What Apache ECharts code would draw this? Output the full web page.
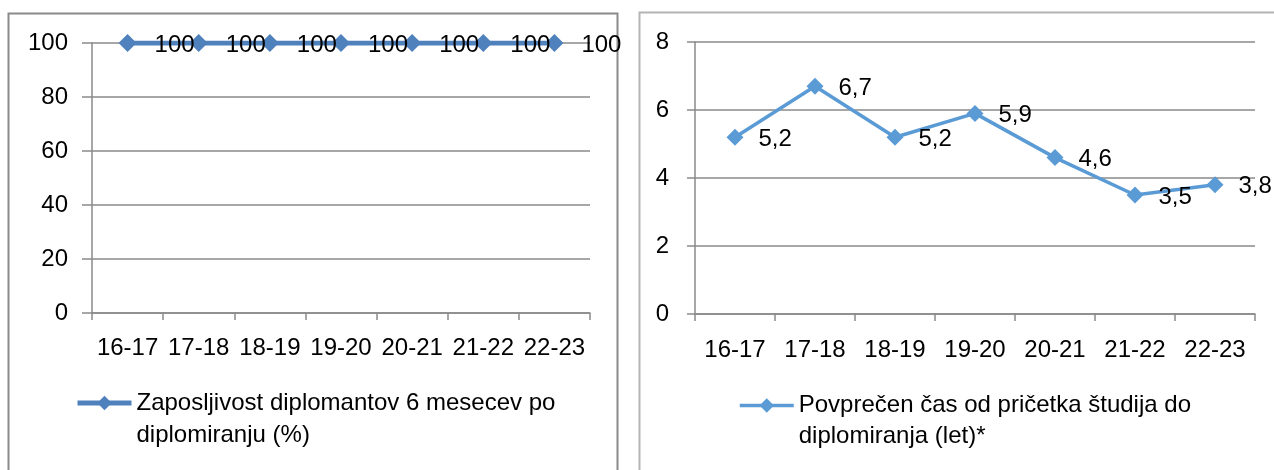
<!DOCTYPE html>
<html>
<head>
<meta charset="utf-8">
<script src="https://cdn.jsdelivr.net/npm/echarts@6/dist/echarts.min.js"></script>
<style>
html,body{margin:0;padding:0;background:#fff;}
#c{width:1274px;height:470px;}
</style>
</head>
<body>
<div id="c"></div>
<script>
const categories = ['16-17','17-18','18-19','19-20','20-21','21-22','22-23'];
const employability = [100,100,100,100,100,100,100];
const studyTime = [5.2,6.7,5.2,5.9,4.6,3.5,3.8];
const leftYTicks = [0,20,40,60,80,100];
const rightYTicks = [0,2,4,6,8];
const leftName = 'Zaposljivost diplomantov 6 mesecev po\ndiplomiranju (%)';
const rightName = 'Povprečen čas od pričetka študija do\ndiplomiranja (let)*';

const FONT = 'Liberation Sans';
const FS = 24;
const gridColor = '#8a8a8a';
const leftColor = '#4F81BD';
const rightColor = '#5B9BD5';

const chart = echarts.init(document.getElementById('c'), null, {renderer:'canvas'});

function yAxis(gridIndex, ticks, labelMargin, tickLen){
  return {
    type:'value', gridIndex,
    min: ticks[0], max: ticks[ticks.length-1], interval: ticks[1]-ticks[0],
    axisLine:{show:true, lineStyle:{color:gridColor, width:1.5}},
    axisTick:{show:true, length:tickLen, lineStyle:{color:gridColor, width:1.5}},
    splitLine:{show:true, lineStyle:{color:gridColor, width:1.5}},
    axisLabel:{color:'#000', fontFamily:FONT, fontSize:FS, margin:labelMargin}
  };
}
function xAxis(gridIndex, labelMargin){
  return {
    type:'category', gridIndex, data:categories, boundaryGap:true,
    axisLine:{show:true, lineStyle:{color:gridColor, width:1.5}},
    axisTick:{show:true, length:7, alignWithLabel:false, lineStyle:{color:gridColor, width:1.5}},
    splitLine:{show:false},
    axisLabel:{color:'#000', fontFamily:FONT, fontSize:FS, margin:labelMargin, interval:0}
  };
}
function legend(name, left, top, lh, lw, color){
  return {
    data:[name], left, top, padding:0, orient:'horizontal',
    itemWidth:54, itemHeight:18,
    lineStyle:{width:lw, color:color},
    itemStyle:{color:color},
    formatter:(n)=>' \n' + n,
    textStyle:{color:'#000', fontFamily:FONT, fontSize:FS, lineHeight:lh}
  };
}

chart.setOption({
  animation:false,
  backgroundColor:'#fff',
  graphic:[
    {type:'rect', shape:{x:8.5, y:13.5, width:609, height:480}, style:{fill:'none', stroke:'#8a8a8a', lineWidth:2}, z:-1},
    {type:'rect', shape:{x:639.5, y:12.5, width:660, height:480}, style:{fill:'none', stroke:'#b4b4b4', lineWidth:2}, z:-1}
  ],
  grid:[
    {left:92, top:43, width:498, height:270},
    {left:695, top:42, width:560, height:272}
  ],
  xAxis:[xAxis(0, 23), xAxis(1, 24)],
  yAxis:[yAxis(0, leftYTicks, 24, 10), yAxis(1, rightYTicks, 26, 8)],
  legend:[
    legend(leftName, 75, 355, 32, 5, leftColor),
    legend(rightName, 738, 359, 31, 3.5, rightColor)
  ],
  series:[
    {
      name:leftName, type:'line', xAxisIndex:0, yAxisIndex:0, data:employability,
      symbol:'diamond', symbolSize:18,
      lineStyle:{color:leftColor, width:5},
      itemStyle:{color:leftColor},
      label:{show:true, position:'right', distance:18, offset:[0,2], color:'#000', fontFamily:FONT, fontSize:FS},
      z:3
    },
    {
      name:rightName, type:'line', xAxisIndex:1, yAxisIndex:1, data:studyTime,
      symbol:'diamond', symbolSize:17,
      lineStyle:{color:rightColor, width:3.5},
      itemStyle:{color:rightColor},
      label:{show:true, position:'right', distance:15, offset:[0,2], color:'#000', fontFamily:FONT, fontSize:FS,
        formatter:(p)=>String(p.value).replace('.',',')},
      z:3
    }
  ]
});
</script>
</body>
</html>
